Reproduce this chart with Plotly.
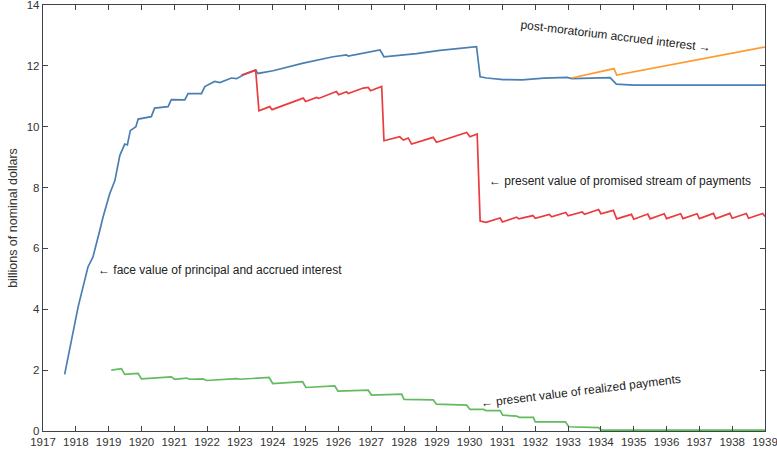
import plotly.graph_objects as go

# face value of principal and accrued interest
face_x = [1917.66, 1918.07, 1918.37, 1918.52, 1918.73, 1918.83, 1919.03, 1919.19, 1919.34,
          1919.49, 1919.57, 1919.66, 1919.83, 1919.90, 1920.30, 1920.40, 1920.81, 1920.91,
          1921.32, 1921.42, 1921.83, 1921.93, 1922.23, 1922.39, 1922.74, 1922.90, 1923.10,
          1923.48, 1923.55, 1924.01, 1924.93, 1925.84, 1926.25, 1926.30, 1927.27, 1927.39,
          1928.38, 1929.10, 1930.21, 1930.32, 1930.52, 1931.02, 1931.60, 1932.26, 1932.97,
          1933.12, 1934.28, 1934.47, 1934.99, 1939.00]
face_y = [1.86, 4.08, 5.39, 5.71, 6.59, 7.03, 7.79, 8.23, 9.05,
          9.43, 9.40, 9.87, 10.00, 10.25, 10.33, 10.61, 10.66, 10.89,
          10.88, 11.09, 11.09, 11.32, 11.49, 11.45, 11.60, 11.58, 11.70,
          11.86, 11.75, 11.84, 12.09, 12.30, 12.36, 12.32, 12.52, 12.30,
          12.40, 12.51, 12.63, 11.64, 11.60, 11.55, 11.54, 11.60, 11.62,
          11.58, 11.61, 11.40, 11.37, 11.37]

# present value of promised stream of payments
promised_x = [1923.05, 1923.30, 1923.48, 1923.58, 1923.91, 1923.98, 1924.93, 1925.00, 1925.34,
              1925.40, 1925.94, 1926.01, 1926.25, 1926.30, 1926.76, 1926.91, 1926.98, 1927.32,
              1927.39, 1927.87, 1927.98, 1928.13, 1928.23, 1928.89, 1928.99, 1929.91, 1930.01,
              1930.23, 1930.32, 1930.50, 1930.93, 1931.00, 1931.43, 1931.50, 1931.93, 1932.00,
              1932.43, 1932.50, 1932.93, 1933.00, 1933.43, 1933.50, 1933.93, 1934.00, 1934.38,
              1934.48, 1934.93, 1935.00, 1935.43, 1935.50, 1935.93, 1936.00, 1936.43, 1936.50,
              1936.93, 1937.00, 1937.43, 1937.50, 1937.93, 1938.00, 1938.43, 1938.50, 1938.93,
              1939.00]
promised_y = [11.70, 11.78, 11.86, 10.52, 10.66, 10.56, 10.94, 10.83, 10.96,
              10.93, 11.16, 11.05, 11.15, 11.09, 11.27, 11.29, 11.18, 11.32,
              9.54, 9.67, 9.56, 9.63, 9.43, 9.65, 9.49, 9.81, 9.67,
              9.76, 6.90, 6.86, 7.00, 6.87, 7.03, 6.97, 7.08, 6.99,
              7.12, 7.04, 7.18, 7.07, 7.20, 7.12, 7.28, 7.14, 7.25,
              6.97, 7.12, 6.96, 7.13, 6.97, 7.14, 6.98, 7.14, 6.98,
              7.14, 6.98, 7.15, 6.98, 7.15, 6.99, 7.15, 6.99, 7.15,
              7.05]

# post-moratorium accrued interest
post_x = [1933.11, 1934.40, 1934.48, 1939.00]
post_y = [11.60, 11.91, 11.70, 12.62]

# present value of realized payments
realized_x = [1919.08, 1919.39, 1919.49, 1919.90, 1920.00, 1920.91, 1921.01, 1921.37, 1921.47,
              1921.88, 1921.98, 1922.90, 1923.00, 1923.89, 1924.00, 1924.91, 1925.01, 1925.89,
              1925.99, 1926.91, 1927.01, 1927.93, 1928.00, 1928.89, 1928.99, 1929.91, 1930.01,
              1930.42, 1930.50, 1930.93, 1931.01, 1931.43, 1931.51, 1931.94, 1932.00, 1932.92,
              1933.02, 1933.93, 1934.02, 1939.00]
realized_y = [2.00, 2.05, 1.86, 1.89, 1.71, 1.78, 1.70, 1.74, 1.70,
              1.71, 1.66, 1.72, 1.70, 1.76, 1.56, 1.62, 1.43, 1.48,
              1.31, 1.34, 1.18, 1.21, 1.04, 1.02, 0.88, 0.85, 0.71,
              0.71, 0.67, 0.67, 0.52, 0.49, 0.45, 0.45, 0.30, 0.30,
              0.14, 0.11, 0.03, 0.03]

years = list(range(1917, 1940))
y_ticks = list(range(0, 15, 2))

axis_color = 'rgb(62,66,74)'

fig = go.Figure()
fig.add_trace(go.Scatter(x=face_x, y=face_y, mode='lines',
                         line=dict(color='#4a7fb3', width=1.7)))
fig.add_trace(go.Scatter(x=promised_x, y=promised_y, mode='lines',
                         line=dict(color='#ec3b3f', width=1.7)))
fig.add_trace(go.Scatter(x=post_x, y=post_y, mode='lines',
                         line=dict(color='#ff9a2e', width=1.7)))
fig.add_trace(go.Scatter(x=realized_x, y=realized_y, mode='lines',
                         line=dict(color='#62bb5e', width=1.7)))

notes = [
    (1918.6, 5.28, '← face value of principal and accrued interest', 0, 'left'),
    (1930.53, 8.23, '← present value of promised stream of payments', 0, 'left'),
    (1934.43, 12.98, 'post-moratorium accrued interest →', 7, 'center'),
    (1933.39, 1.33, '← present value of realized payments', -7, 'center'),
]
for x, y, text, angle, anchor in notes:
    fig.add_annotation(x=x, y=y, text=text, showarrow=False, textangle=angle,
                       xanchor=anchor, yanchor='middle',
                       font=dict(size=12, color='#222222'))

axis_style = dict(showline=True, linecolor=axis_color, linewidth=1.4, mirror='ticks',
                  ticks='inside', ticklen=5, tickwidth=1.2, tickcolor=axis_color,
                  showgrid=False, zeroline=False,
                  ticklabeloverflow='allow', automargin=False)

fig.update_layout(
    width=777, height=455,
    margin=dict(l=43, r=12, t=5, b=24),
    plot_bgcolor='white', paper_bgcolor='white',
    showlegend=False,
    font=dict(family='Liberation Sans, Arial, sans-serif', size=11.5, color='#333333'),
)
fig.update_xaxes(range=[1917, 1939], tickvals=years, ticktext=[str(y) for y in years],
                 **axis_style)
fig.update_yaxes(range=[0, 14], tickvals=y_ticks, ticktext=[str(v) for v in y_ticks],
                 title=dict(text='billions of nominal dollars', font=dict(size=12.5), standoff=6),
                 **axis_style)

fig.write_html("out.html", config={'displayModeBar': False},
               post_script="document.body.style.margin='0';document.body.style.overflow='hidden';")
